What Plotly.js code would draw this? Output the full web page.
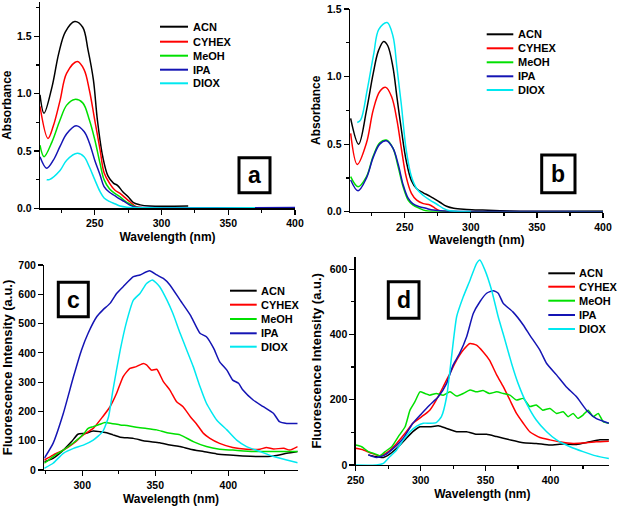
<!DOCTYPE html>
<html>
<head>
<meta charset="utf-8">
<script src="https://cdn.plot.ly/plotly-3.0.1.min.js"></script>
<style>html,body{margin:0;padding:0;background:#fff;}#chart{width:620px;height:509px;}</style>
</head>
<body>
<div id="chart"></div>
<script>
// ---------- data ----------
const solvents = ["ACN", "CYHEX", "MeOH", "IPA", "DIOX"];
const colors = ["#000000", "#ff0000", "#00e000", "#1414b4", "#00e8f0"];

// Panel a (absorbance)
const aX_ACN = [209,212,218,223,228,235,241,245,249,252,256,260,264,267,271,275,279,284,291,320];
const aY_ACN = [0.99,0.83,1.06,1.35,1.54,1.63,1.58,1.38,1.12,0.77,0.45,0.28,0.22,0.20,0.145,0.10,0.05,0.03,0.02,0.02];
const aX_CYHEX = [209,215,219,224,229,237,242,246,250,254,257,261,265,269,272,276,281,286,320,400];
const aY_CYHEX = [0.89,0.61,0.72,0.94,1.18,1.28,1.21,1.03,0.77,0.51,0.31,0.22,0.16,0.13,0.10,0.06,0.015,0.005,0.003,0.003];
const aX_MeOH = [209,212,218,224,229,235,241,246,250,254,257,261,265,269,272,276,281,290,400];
const aY_MeOH = [0.55,0.45,0.58,0.77,0.90,0.95,0.92,0.77,0.60,0.39,0.25,0.17,0.13,0.10,0.07,0.04,0.01,0.004,0.004];
const aX_IPA = [209,214,219,224,229,236,242,246,250,254,257,261,265,269,272,276,281,290,400];
const aY_IPA = [0.45,0.35,0.42,0.54,0.65,0.72,0.67,0.57,0.42,0.29,0.19,0.14,0.11,0.08,0.06,0.03,0.01,0.006,0.006];
const aX_DIOX = [214,216,224,229,237,242,246,250,254,257,261,265,269,274,290,370];
const aY_DIOX = [0.25,0.25,0.33,0.42,0.48,0.45,0.36,0.25,0.145,0.09,0.06,0.04,0.02,0.01,0.004,0.004];

// Panel b (absorbance)
const bX_ACN = [209,215,221,226,230,234,237,241,244,247.5,251,255,259,264,268,271.5,276.5,281.6,287,297,309,330,400];
const bY_ACN = [0.69,0.50,0.75,1.02,1.19,1.26,1.23,1.07,0.85,0.60,0.38,0.23,0.17,0.14,0.12,0.10,0.07,0.04,0.025,0.017,0.012,0.005,0.003];
const bX_CYHEX = [209,214,221,226,231,235.6,240,244,247.5,251,255,259,264,269,273,276.5,285,400];
const bY_CYHEX = [0.58,0.35,0.51,0.75,0.89,0.92,0.85,0.68,0.46,0.26,0.136,0.086,0.06,0.05,0.025,0.007,0.002,0.002];
const bX_MeOH = [209,214.6,221,226,231,236,241,245,248.7,252.5,256,261,266,280,400];
const bY_MeOH = [0.26,0.185,0.26,0.41,0.51,0.53,0.47,0.33,0.185,0.086,0.05,0.025,0.007,0.002,0.002];
const bX_IPA = [209,214.6,221,226,231,236,241,245,248.7,252.5,256,261,266,271.5,279,300,400];
const bY_IPA = [0.235,0.155,0.25,0.40,0.50,0.525,0.47,0.35,0.20,0.10,0.06,0.037,0.025,0.012,0.005,0.002,0.002];
const bX_DIOX = [214,216.6,221.5,226.5,230.3,236.6,241,244,247.5,251,255,259,264,269,274,279,284,300];
const bY_DIOX = [0.66,0.68,0.90,1.17,1.35,1.40,1.30,1.07,0.78,0.46,0.26,0.17,0.12,0.086,0.057,0.025,0.007,0.002];

// Panel c (fluorescence)
const cX_ACN = [274,280,287,292.7,297,302,307.5,312,316.7,321,326,335,341.8,346,353,360,367,374,383,392,401,410,421.7,431,440,447.5];
const cY_ACN = [28,40,68,97,122,125,133,131,127,120,112,108,100,97,93,85,80,71,63,55,51,48,46,48,57,63];
const cX_CYHEX = [274,280,287,294,300.7,307.5,314,319,323.5,328,332.6,337,341.8,344,347.5,351,355.5,360,364.6,369,374,378,383,387.4,394,403,412.5,421.7,426,431,438,442,447.5];
const cY_CYHEX = [34,51,68,91,120,142,182,216,262,319,347,353,364,359,341,344,302,273,233,216,182,159,125,108,91,77,71,71,77,72,74,68,80];
const cX_MeOH = [274,280,287,294,300.7,304,307.5,312,315.5,320,326,331.5,337,344,351,358,367,376,385,394,403,417,431,447.5];
const cY_MeOH = [23,46,68,93,122,142,148,156,162,159,154,151,146,142,137,127,120,97,80,71,68,63,63,63];
const cX_IPA = [274,280,287,294,299.5,304,310,314,319,323.5,328,335,339.5,346,351,355.5,360,367,374,380.6,385,390,394,399,403,407,410,417,424,431,435,440,447.5];
const cY_IPA = [40,91,193,319,410,467,524,546,569,603,626,660,666,680,666,654,632,580,529,467,455,415,370,341,307,296,273,239,216,193,165,159,159];
const cX_DIOX = [274,280,287,294,300.7,307.5,314,318,321,326,330,335,339.5,344,348,353,358,362,367,371.5,376,380.6,385,392,399,405.7,412.5,421.7,431,440,447.5];
const cY_DIOX = [6,23,57,74,85,102,131,182,273,410,500,580,603,637,649,626,580,535,467,410,353,285,228,171,137,102,80,63,46,34,25];

// Panel d (fluorescence)
const dX_ACN = [259.7,264.9,271.3,276.4,282.8,289,294,299.5,307,313.6,320,327.7,335.4,343,350.8,358.5,368.7,379,389,399.5,409.7,420,430,438,444.9];
const dY_ACN = [31,26,23,34,56,82,102,117,117,120,112,102,102,94,94,87,77,68,66,61,64,63,71,77,77];
const dX_CYHEX = [250,255.9,262.3,268.7,275,281.5,288,294,300.8,307,312,317.4,322.6,327.7,332.8,338,343,348,353,358.5,363.6,368.7,373.8,379,384,391.8,399.5,407,417.4,427.7,435,444.9];
const dY_CYHEX = [51,46,36,28,41,66,97,128,148,168,199,240,281,321,352,372,367,347,321,276,240,199,158,128,102,84,77,71,66,68,71,73];
const dX_MeOH = [250,254.6,259.7,264.9,268.7,272.6,277.7,282.8,288,291.8,295.6,299.5,303.3,307,312,317.4,322.6,327.7,332.8,338,343,348,353,358.5,363.6,368.7,373.8,379,384,389,394,399.5,404.6,409.7,413.6,417.4,421,425,429,432.8,436.7,440.5,444.9];
const dY_MeOH = [61,56,41,34,28,41,56,87,117,168,194,224,219,214,219,214,224,211,219,230,224,228,219,224,219,214,199,204,179,184,168,173,158,163,148,158,143,153,168,148,158,133,128];
const dX_IPA = [259.7,266,272.6,279,286.7,294,300.8,307,313.6,320,325,330,335.4,340.5,345.6,350.8,355.9,359.7,363.6,371,379,384,391.8,397,404.6,412,420,427.7,435,444.9];
const dY_IPA = [31,23,31,51,82,128,158,184,209,250,306,342,393,464,500,526,534,526,495,469,429,398,352,311,276,240,209,168,143,128];
const dX_DIOX = [250,266,271.3,276.4,281.5,286.7,291.8,297,302,307,312,316,320,323.8,327.7,332.8,338,343,345.6,349.5,354.6,359.7,364.9,370,375,381.5,389,397,404.6,415,425,435,444.9];
const dY_DIOX = [0,0,5,26,46,77,102,119,128,128,130,148,209,332,454,515,566,617,628,597,536,454,383,311,250,189,138,102,77,56,41,28,20];

// ---------- build ----------
const W = 620, H = 509;
const px = v => v / W;
const py = v => 1 - v / H;

const panels = [
  {id:"", data:[[aX_ACN,aY_ACN],[aX_CYHEX,aY_CYHEX],[aX_MeOH,aY_MeOH],[aX_IPA,aY_IPA],[aX_DIOX,aY_DIOX]], spline:true},
  {id:"2", data:[[bX_ACN,bY_ACN],[bX_CYHEX,bY_CYHEX],[bX_MeOH,bY_MeOH],[bX_IPA,bY_IPA],[bX_DIOX,bY_DIOX]], spline:true},
  {id:"3", data:[[cX_ACN,cY_ACN],[cX_CYHEX,cY_CYHEX],[cX_MeOH,cY_MeOH],[cX_IPA,cY_IPA],[cX_DIOX,cY_DIOX]], spline:false},
  {id:"4", data:[[dX_ACN,dY_ACN],[dX_CYHEX,dY_CYHEX],[dX_MeOH,dY_MeOH],[dX_IPA,dY_IPA],[dX_DIOX,dY_DIOX]], spline:false}
];

const traces = [];
panels.forEach(p => {
  p.data.forEach((d, i) => {
    traces.push({
      type: "scatter", mode: "lines", name: solvents[i],
      x: d[0], y: d[1],
      xaxis: "x" + p.id, yaxis: "y" + p.id,
      line: {color: colors[i], width: 1.5, shape: p.spline ? "spline" : "spline", smoothing: p.spline ? 1 : 0.5},
      showlegend: false, hoverinfo: "skip"
    });
  });
});

const FF = "Liberation Sans, Arial, sans-serif";
const tickFont = {family: FF, size: 10.5, weight: "bold", color: "#000"};
const titleFont = {family: FF, size: 12, weight: "bold", color: "#000"};

function ax(opts) {
  return Object.assign({
    showline: true, linecolor: "#000", linewidth: 1.3, mirror: false,
    ticks: "outside", ticklen: 5, tickwidth: 1.2, tickcolor: "#000",
    showgrid: false, zeroline: false, tickfont: tickFont, automargin: false,
    fixedrange: true
  }, opts);
}

const layout = {
  width: W, height: H, margin: {l:0, r:0, t:0, b:0},
  paper_bgcolor: "#fff", plot_bgcolor: "rgba(0,0,0,0)", showlegend: false,
  xaxis: ax({domain:[px(40), px(295)], range:[209,400], anchor:"y", tickvals:[250,300,350,400],
    minor:{ticks:"outside", ticklen:3, dtick:25, tick0:0, tickcolor:"#000"},
    title:{text:"Wavelength (nm)", font:titleFont, standoff:4}}),
  yaxis: ax({domain:[py(208.3), py(2)], range:[0,1.8], anchor:"x", tickvals:[0,0.5,1.0,1.5], tickformat:".1f",
    minor:{ticks:"outside", ticklen:3, dtick:0.25, tick0:0, tickcolor:"#000"},
    title:{text:"Absorbance", font:titleFont, standoff:3}}),
  xaxis2: ax({domain:[px(350), px(603)], range:[208.5,400], anchor:"y2", tickvals:[250,300,350,400],
    minor:{ticks:"outside", ticklen:3, dtick:25, tick0:0, tickcolor:"#000"},
    title:{text:"Wavelength (nm)", font:titleFont, standoff:4}}),
  yaxis2: ax({domain:[py(211.7), py(9)], range:[0,1.5], anchor:"x2", tickvals:[0,0.5,1.0,1.5], tickformat:".1f",
    minor:{ticks:"outside", ticklen:3, dtick:0.25, tick0:0, tickcolor:"#000"},
    title:{text:"Absorbance", font:titleFont, standoff:3}}),
  xaxis3: ax({domain:[px(44.3), px(297.7)], range:[274,447.5], anchor:"y3", tickvals:[300,350,400],
    minor:{ticks:"outside", ticklen:3, dtick:25, tick0:0, tickcolor:"#000"},
    title:{text:"Wavelength (nm)", font:titleFont, standoff:4}}),
  yaxis3: ax({domain:[py(470), py(265)], range:[0,700], anchor:"x3", dtick:100, tick0:0,
    title:{text:"Fluorescence Intensity (a.u.)", font:Object.assign({}, titleFont, {size:13}), standoff:5}}),
  xaxis4: ax({domain:[px(355.7), px(609)], range:[250,445], anchor:"y4", tickvals:[250,300,350,400],
    minor:{ticks:"outside", ticklen:3, dtick:25, tick0:0, tickcolor:"#000"},
    title:{text:"Wavelength (nm)", font:titleFont, standoff:4}}),
  yaxis4: ax({domain:[py(465), py(256.7)], range:[0,638], anchor:"x4", tickvals:[0,200,400,600],
    minor:{ticks:"outside", ticklen:3, dtick:100, tick0:0, tickcolor:"#000"},
    title:{text:"Fluorescence Intensity (a.u.)", font:Object.assign({}, titleFont, {size:13}), standoff:5}}),
  shapes: [], annotations: []
};

// legends (drawn manually to match compact spacing)
const legendDefs = [
  {x0:160, x1:188, tx:191, rows:[26.7,41.7,55.7,69.7,83.3]},
  {x0:486.7, x1:513.3, tx:516, rows:[34.3,48.3,62.3,76.3,90]},
  {x0:230, x1:256.7, tx:259, rows:[290.7,304.7,319,333.3,346.7]},
  {x0:548.3, x1:575, tx:577, rows:[273.3,286.7,300.7,315,329]}
];
legendDefs.forEach(L => {
  solvents.forEach((s, i) => {
    layout.shapes.push({type:"line", xref:"paper", yref:"paper",
      x0:px(L.x0), x1:px(L.x1), y0:py(L.rows[i]), y1:py(L.rows[i]),
      line:{color:colors[i], width:2}});
    layout.annotations.push({xref:"paper", yref:"paper", x:px(L.tx), y:py(L.rows[i]),
      xanchor:"left", yanchor:"middle", showarrow:false, text:s,
      font:{family:FF, size:11, weight:"bold", color:"#000"}});
  });
});

// panel label boxes
const boxes = [
  {t:"a", x0:239, x1:270, y0:157.7, y1:192.7},
  {t:"b", x0:541.7, x1:575, y0:155, y1:192.7},
  {t:"c", x0:58.3, x1:88.3, y0:282.3, y1:316.7},
  {t:"d", x0:388.3, x1:419, y0:281.7, y1:318.3}
];
boxes.forEach(b => {
  layout.shapes.push({type:"rect", xref:"paper", yref:"paper",
    x0:px(b.x0), x1:px(b.x1), y0:py(b.y1), y1:py(b.y0),
    line:{color:"#000", width:3}, fillcolor:"#fff"});
  layout.annotations.push({xref:"paper", yref:"paper", x:px((b.x0+b.x1)/2), y:py((b.y0+b.y1)/2),
    xanchor:"center", yanchor:"middle", showarrow:false, text:b.t,
    font:{family:FF, size:23, weight:"bold", color:"#000"}});
});

Plotly.newPlot("chart", traces, layout, {displayModeBar:false, staticPlot:true});
</script>
</body>
</html>
